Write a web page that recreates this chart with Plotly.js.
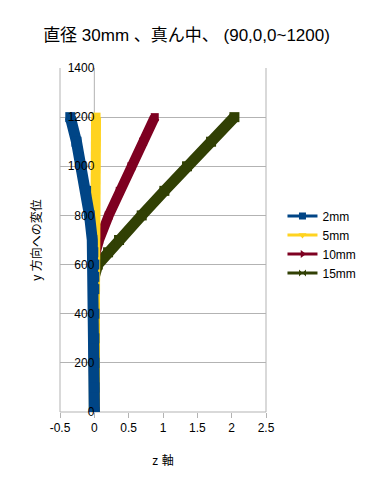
<!DOCTYPE html>
<html><head><meta charset="utf-8">
<script src="https://cdn.plot.ly/plotly-3.0.1.min.js"></script>
<style>html,body{margin:0;padding:0;background:#fff}#c{width:373px;height:487px}</style>
</head><body><div id="c"></div>
<script>
var yPos = [0, 100, 200, 300, 400, 500, 550, 600, 650, 700, 800, 900, 1000, 1100, 1200];
var x2mm  = [0, 0, 0, 0, 0, 0, 0, 0, -0.015, -0.03, -0.07, -0.12, -0.19, -0.26, -0.35];
var x5mm  = [0, 0, 0, 0, 0, 0, 0, 0, 0.0, 0.003, 0.008, 0.013, 0.018, 0.022, 0.025];
var x10mm = [0, 0, 0, 0, 0, -0.01, -0.03, -0.02, 0.02, 0.07, 0.21, 0.37, 0.54, 0.71, 0.88];
var x15mm = [0, 0, 0, 0, 0, 0, 0, 0.05, 0.2, 0.36, 0.69, 1.02, 1.35, 1.7, 2.04];
var names = ['2mm', '5mm', '10mm', '15mm'];
var colors = ['#004586', '#ffd320', '#7e0021', '#314004'];
var symbols = ['square', 'triangle-down', 'triangle-right', 'bowtie'];
var seriesX = [x2mm, x5mm, x10mm, x15mm];
var xTicks = [-0.5, 0, 0.5, 1, 1.5, 2, 2.5];
var yTicks = [0, 200, 400, 600, 800, 1000, 1200, 1400];

var lineW = [11, 10, 10, 11];
var markS = [10, 9, 8, 10];
var traces = [];
for (var i = 3; i >= 0; i--) {
  traces.push({
    x: seriesX[i], y: yPos, type: 'scatter', mode: 'lines+markers',
    line: {color: colors[i], width: lineW[i]},
    marker: {symbol: 'square', size: markS[i], color: colors[i], line: {width: 0}},
    showlegend: false, hoverinfo: 'skip'
  });
}
for (var j = 0; j < 4; j++) {
  traces.push({
    x: [null], y: [null], type: 'scatter', mode: 'lines+markers', name: names[j],
    line: {color: colors[j], width: 3},
    marker: {symbol: symbols[j], size: 7, color: colors[j]},
    showlegend: true
  });
}

var font = 'Liberation Sans, Noto Sans CJK JP, sans-serif';
var grey = '#b3b3b3';
var layout = {
  width: 373, height: 487,
  margin: {l: 60, r: 104, t: 68, b: 75},
  paper_bgcolor: '#fff', plot_bgcolor: '#fff',
  font: {family: font, size: 12, color: '#000'},
  title: {text: '直径 30mm 、真ん中、 (90,0,0~1200)', font: {family: font, size: 17, color: '#000'}, x: 0.5, xanchor: 'center', y: 0.928, yanchor: 'middle'},
  xaxis: {
    range: [-0.5, 2.5], tickvals: xTicks, ticktext: xTicks.map(String),
    showgrid: false, zeroline: false, showline: false,
    ticks: 'outside', ticklen: 5, tickcolor: grey,
    tickfont: {size: 12, color: '#000'},
    title: {text: 'z 軸', font: {size: 12, color: '#000'}, standoff: 22}
  },
  yaxis: {
    range: [0, 1400], tickvals: yTicks, ticktext: yTicks.map(String),
    anchor: 'free', position: 1/6,
    showgrid: true, gridcolor: grey, gridwidth: 1, zeroline: false,
    showline: false,
    ticks: '', tickfont: {size: 12, color: '#000'},
    title: {text: 'y 方向への変位', font: {size: 12, color: '#000'}, standoff: 22}
  },
  legend: {x: 1.08, xanchor: 'left', y: 0.612, yanchor: 'top', font: {size: 12, color: '#000'}, bgcolor: 'rgba(0,0,0,0)'},
  shapes: [
    {type: 'line', xref: 'paper', yref: 'paper', x0: 0, x1: 0, y0: 0, y1: 1, line: {color: grey, width: 1}, layer: 'below'},
    {type: 'line', xref: 'paper', yref: 'paper', x0: 1, x1: 1, y0: 0, y1: 1, line: {color: grey, width: 1}, layer: 'below'},
    {type: 'line', xref: 'paper', yref: 'paper', x0: 0, x1: 1, y0: 0, y1: 0, line: {color: grey, width: 1}, layer: 'below'},
    {type: 'line', xref: 'x', yref: 'paper', x0: 0, x1: 0, y0: 0, y1: 1, line: {color: grey, width: 1}, layer: 'below'}
  ]
};
Plotly.newPlot('c', traces, layout, {displayModeBar: false, staticPlot: true});
</script></body></html>
